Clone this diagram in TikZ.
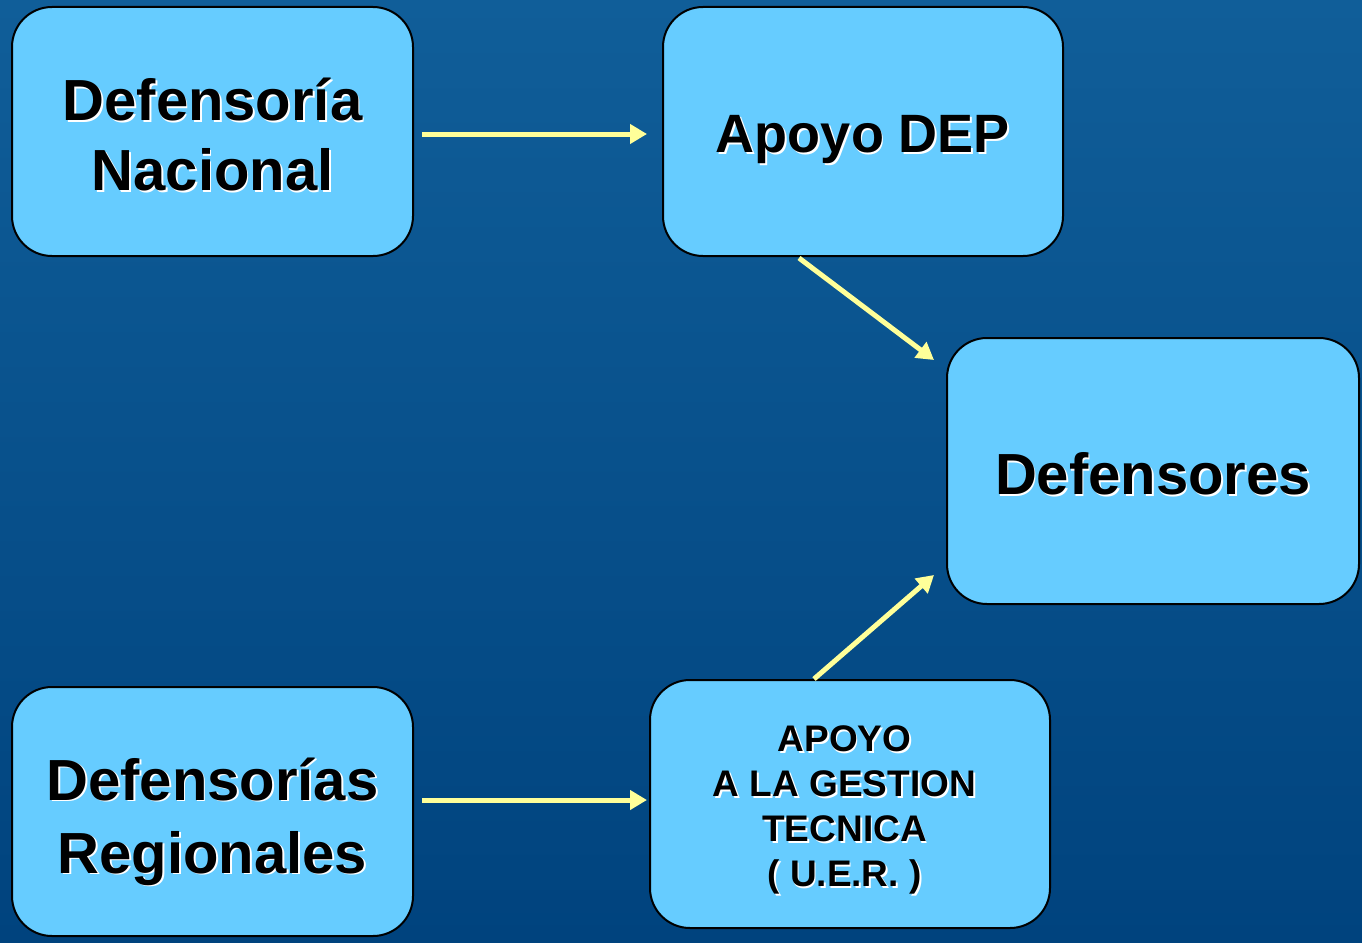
\documentclass[tikz,border=0pt]{standalone}
\usepackage{fontspec}
\setmainfont{Liberation Sans}
\usetikzlibrary{arrows.meta,calc}
\definecolor{bgtop}{RGB}{16,94,153}
\definecolor{bgbot}{RGB}{0,67,126}
\definecolor{boxfill}{RGB}{102,204,255}
\definecolor{arrowc}{RGB}{255,255,153}
\newcommand\shd[2][0pt]{\vphantom{#2}\raisebox{-#1}[0pt][0pt]{\makebox[0pt][l]{\hspace{1.8pt}\raisebox{-1.8pt}{\color{white}#2}}#2}}
\newcommand\shdl[1]{\shd[6pt]{#1}\kern11pt}
\begin{document}
\begin{tikzpicture}[x=1pt,y=1pt,
  box/.style={draw=black,line width=2pt,fill=boxfill,rounded corners=40pt,inner sep=0pt,align=center,
    font=\bfseries\fontsize{58}{70}\selectfont},
  arr/.style={draw=arrowc,line width=5pt,-{Triangle[length=17pt,width=19pt]}}]
\useasboundingbox (0,0) rectangle (1362,-942);
\shade[top color=bgtop,bottom color=bgbot] (0,0) rectangle (1362,-942);
\node[box,minimum width=401pt,minimum height=249pt] (dn) at (212.5,-131.5) {\shd[3pt]{Defensoría}\\\shd[3pt]{Nacional}};
\node[box,minimum width=400pt,minimum height=249pt,font=\bfseries\fontsize{54}{65}\selectfont] (dep) at (863,-131.5) {\shd[8pt]{Apoyo DEP}};
\node[box,minimum width=412pt,minimum height=266pt] (def) at (1153,-471) {\shd[3pt]{Defensores}};
\node[box,minimum width=401pt,minimum height=249pt,font=\bfseries\fontsize{58}{73}\selectfont] (dr) at (212.5,-811.5) {\shd[10pt]{Defensorías}\\\shd[10pt]{Regionales}};
\node[box,minimum width=400pt,minimum height=248pt,font=\bfseries\fontsize{37}{45}\selectfont] (uer) at (850,-804) {\shdl{APOYO}\\\shdl{A LA GESTION}\\\shdl{TECNICA}\\\shdl{( U.E.R. )}};
\draw[arr] ($(dn.east)+(8,-2.5)$) -- ($(dep.west)+(-15,-2.5)$);
\draw[arr] ($(dr.east)+(8,11.5)$) -- ($(uer.west)+(-2,4)$);
\draw[arr] ($(dep.south)+(-64,-1)$) -- ($(def.north west)+(-12,-23)$);
\draw[arr] ($(uer.north)+(-36,0)$) -- ($(def.south west)+(-12,30)$);
\end{tikzpicture}
\end{document}
